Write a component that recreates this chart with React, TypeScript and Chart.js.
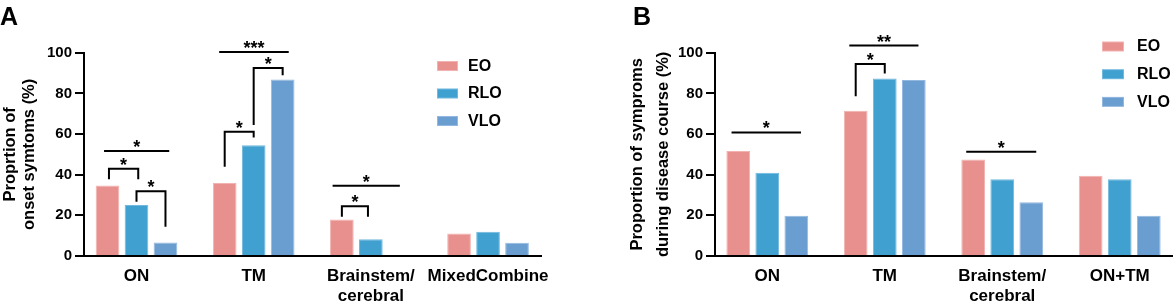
import React, { useEffect, useRef } from 'react';
import { Chart, registerables } from 'chart.js';

Chart.register(...registerables);

// ---------- data ----------
const seriesNames = ['EO', 'RLO', 'VLO'];

const categoriesA = ['ON', 'TM', 'Brainstem/ cerebral', 'MixedCombine'];
const eoA = [34.7, 35.9, 18.0, 11.1];
const rloA = [25.1, 54.5, 8.2, 11.9];
const vloA = [6.6, 86.8, 0, 6.5];

const categoriesB = ['ON', 'TM', 'Brainstem/ cerebral', 'ON+TM'];
const eoB = [51.6, 71.4, 47.5, 39.5];
const rloB = [40.9, 87.3, 37.7, 37.7];
const vloB = [19.8, 86.6, 26.5, 19.8];

const yTickValues = [0, 20, 40, 60, 80, 100];

const titleA = ['Proprtion of', 'onset symtoms (%)'];
const titleB = ['Proportion of symproms', 'during disease course (%)'];

// significance marks: category, bar-slot span, height (value), optional leg ends (value)
const sigA = [
  { cat: 0, from: -0.12, to: 2.13, y: 51.7, label: '*' },
  { cat: 0, from: 0.05, to: 1.06, y: 42.9, leftEnd: 37.7, rightEnd: 37.7, label: '*' },
  { cat: 0, from: 1.0, to: 2.0, y: 31.9, leftEnd: 26.7, rightEnd: 14.4, label: '*' },
  { cat: 1, from: -0.19, to: 2.21, y: 100.3, label: '***' },
  { cat: 1, from: 1.0, to: 2.0, y: 92.5, leftEnd: 64.4, rightEnd: 88.9, label: '*' },
  { cat: 1, from: 0.0, to: 1.0, y: 61.1, leftEnd: 43.9, rightEnd: 58.3, label: '*' },
  { cat: 2, from: -0.32, to: 2.0, y: 34.5, label: '*' },
  { cat: 2, from: 0.0, to: 0.9, y: 24.5, leftEnd: 19.3, rightEnd: 19.3, label: '*' },
];
const sigB = [
  { cat: 0, from: -0.23, to: 2.16, y: 60.8, label: '*' },
  { cat: 1, from: -0.22, to: 2.16, y: 103.5, label: '**' },
  { cat: 1, from: 0.0, to: 1.0, y: 94.5, leftEnd: 78.6, rightEnd: 89.8, label: '*' },
  { cat: 2, from: -0.24, to: 2.17, y: 51.3, label: '*' },
];

// ---------- styles ----------
const FONT = '"Liberation Sans", Arial, Helvetica, sans-serif';
const seriesColors = ['#E8908D', '#40A0D0', '#6A9ED0'];
const seriesBorders = ['#F2B3B0', '#70B8DE', '#93B8E0'];

type Sig = { cat: number; from: number; to: number; y: number; leftEnd?: number; rightEnd?: number; label: string };

function splitLabel(s: string | undefined) {
  if (!s) return '';
  return s.includes('/ ') ? s.split(' ') : s;
}

function makeSigPlugin(marks: Sig[]) {
  return {
    id: 'sigMarks',
    afterDatasetsDraw(chart: any) {
      const ctx = chart.ctx;
      const yScale = chart.scales.y;
      const m0 = chart.getDatasetMeta(0).data;
      const m1 = chart.getDatasetMeta(1).data;
      ctx.save();
      ctx.strokeStyle = '#000';
      ctx.fillStyle = '#000';
      ctx.lineWidth = 2;
      ctx.lineCap = 'butt';
      ctx.lineJoin = 'miter';
      for (const m of marks) {
        const base = m0[m.cat].x;
        const pitch = m1[m.cat].x - base;
        const x1 = base + m.from * pitch;
        const x2 = base + m.to * pitch;
        const yy = yScale.getPixelForValue(m.y);
        ctx.beginPath();
        if (m.leftEnd !== undefined) {
          ctx.moveTo(x1, yScale.getPixelForValue(m.leftEnd));
          ctx.lineTo(x1, yy);
          ctx.lineTo(x2, yy);
          ctx.lineTo(x2, yScale.getPixelForValue(m.rightEnd as number));
        } else {
          ctx.moveTo(x1, yy);
          ctx.lineTo(x2, yy);
        }
        ctx.stroke();
        ctx.font = `bold 18px ${FONT}`;
        ctx.textAlign = 'center';
        ctx.textBaseline = 'alphabetic';
        ctx.fillText(m.label, (x1 + x2) / 2, yy + 2);
      }
      ctx.restore();
    },
  };
}

function makeLegendPlugin(lg: { x: number; y0: number; dy: number; w: number; h: number; tx: number }) {
  return {
    id: 'customLegend',
    afterDraw(chart: any) {
      const ctx = chart.ctx;
      ctx.save();
      chart.data.datasets.forEach((ds: any, i: number) => {
        const cy = lg.y0 + i * lg.dy;
        ctx.fillStyle = ds.borderColor;
        ctx.fillRect(lg.x, cy - lg.h / 2, lg.w, lg.h);
        ctx.fillStyle = ds.backgroundColor;
        ctx.fillRect(lg.x + 1, cy - lg.h / 2 + 1, lg.w - 2, lg.h - 2);
        ctx.fillStyle = '#000';
        ctx.font = `bold 16px ${FONT}`;
        ctx.textAlign = 'left';
        ctx.textBaseline = 'middle';
        ctx.fillText(ds.label, lg.tx, cy + 0.5);
      });
      ctx.restore();
    },
  };
}

type PanelProps = {
  left: number;
  width: number;
  categories: string[];
  values: number[][];
  marks: Sig[];
  title: string[];
  yWidth: number;
  padRight: number;
  xMin: number;
  xMax: number;
  titleLineHeight: number;
  titlePadTop: number;
  legend: { x: number; y0: number; dy: number; w: number; h: number; tx: number };
};

function Panel(p: PanelProps) {
  const ref = useRef<HTMLCanvasElement | null>(null);
  useEffect(() => {
    if (!ref.current) return;
    const chart = new Chart(ref.current, {
      type: 'bar',
      data: {
        datasets: seriesNames.map((name, s) => ({
          label: name,
          data: p.values[s].map((v, i) => ({ x: i, y: v })),
          backgroundColor: seriesColors[s],
          borderColor: seriesBorders[s],
          borderWidth: 1,
          borderSkipped: 'start',
          categoryPercentage: 0.742,
          barPercentage: 0.817,
        })),
      },
      options: {
        responsive: false,
        animation: false,
        devicePixelRatio: 1,
        layout: { padding: { top: 52.7, right: p.padRight, bottom: 0, left: 0 } },
        plugins: { legend: { display: false }, tooltip: { enabled: false } },
        scales: {
          x: {
            type: 'linear',
            bounds: 'data',
            offset: false,
            min: p.xMin,
            max: p.xMax,
            afterDataLimits: (s: any) => {
              s.min = p.xMin;
              s.max = p.xMax;
            },
            afterBuildTicks: (s: any) => {
              s.ticks = p.categories.map((_, i) => ({ value: i }));
              s.min = p.xMin;
              s.max = p.xMax;
            },
            afterFit: (s: any) => {
              s.height = 47;
            },
            grid: { display: false, drawTicks: false, offset: false },
            border: { display: true, color: '#000', width: 2 },
            ticks: {
              autoSkip: false,
              maxRotation: 0,
              minRotation: 0,
              padding: 10,
              color: '#000',
              font: { family: FONT, size: 17, weight: 'bold', lineHeight: 1.2 },
              callback: (v: any) => splitLabel(p.categories[Math.round(Number(v))]),
            },
          },
          y: {
            min: 0,
            max: 100,
            afterBuildTicks: (s: any) => {
              s.ticks = yTickValues.map((v) => ({ value: v }));
            },
            afterFit: (s: any) => {
              s.width = p.yWidth;
            },
            grid: { display: true, drawOnChartArea: false, drawTicks: true, tickLength: 9, color: '#000', lineWidth: 2 },
            border: { display: true, color: '#000', width: 2 },
            ticks: {
              padding: 3,
              color: '#000',
              font: { family: FONT, size: 15, weight: 'bold' },
            },
            title: {
              display: true,
              text: p.title,
              color: '#000',
              font: { family: FONT, size: 16.5, weight: 'bold', lineHeight: p.titleLineHeight },
              padding: { top: p.titlePadTop, bottom: 0 },
            },
          },
        },
      } as any,
      plugins: [makeSigPlugin(p.marks), makeLegendPlugin(p.legend)],
    });
    return () => chart.destroy();
  }, []);
  return (
    <canvas
      ref={ref}
      width={p.width}
      height={303}
      style={{ position: 'absolute', left: p.left, top: 0, width: p.width, height: 303, display: 'block' }}
    />
  );
}

export default function App() {
  const letterStyle: React.CSSProperties = {
    position: 'absolute',
    top: 4,
    fontFamily: FONT,
    fontWeight: 'bold',
    fontSize: 25,
    lineHeight: '25px',
    color: '#000',
    margin: 0,
  };
  return (
    <div
      style={{
        position: 'absolute',
        left: 0,
        top: 0,
        width: 1173,
        height: 303,
        overflow: 'hidden',
        background: '#fff',
      }}
    >
      <Panel
        left={0}
        width={590}
        categories={categoriesA}
        values={[eoA, rloA, vloA]}
        marks={sigA}
        title={titleA}
        yWidth={84}
        padRight={49}
        xMin={-0.448}
        xMax={3.452}
        titleLineHeight={19 / 16.5}
        titlePadTop={0.5}
        legend={{ x: 437, y0: 66, dy: 27.5, w: 21, h: 10, tx: 468 }}
      />
      <Panel
        left={590}
        width={583}
        categories={categoriesB}
        values={[eoB, rloB, vloB]}
        marks={sigB}
        title={titleB}
        yWidth={125}
        padRight={1}
        xMin={-0.445}
        xMax={3.445}
        titleLineHeight={26 / 16.5}
        titlePadTop={34}
        legend={{ x: 512, y0: 46.5, dy: 27.7, w: 22, h: 10, tx: 547 }}
      />
      <div style={{ ...letterStyle, left: 0 }}>A</div>
      <div style={{ ...letterStyle, left: 633 }}>B</div>
    </div>
  );
}
